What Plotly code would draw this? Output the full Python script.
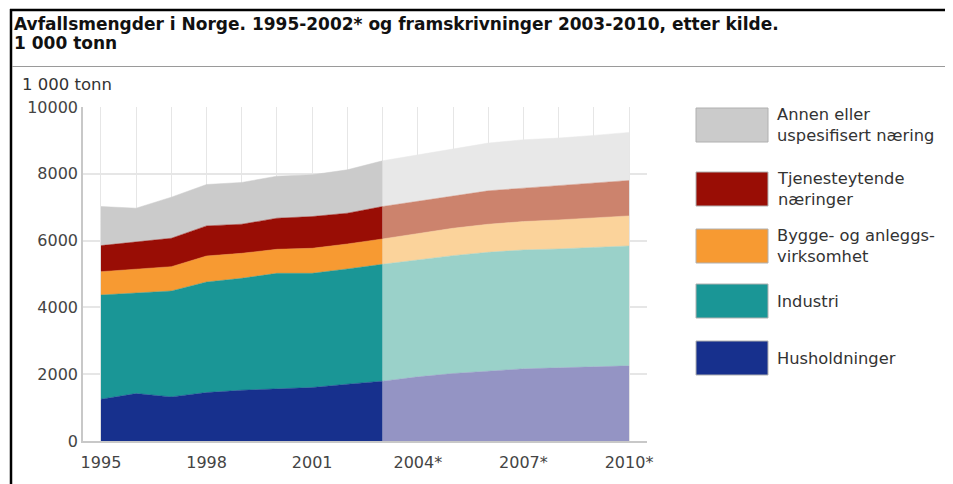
import plotly.graph_objects as go

# Avfallsmengder i Norge, 1 000 tonn. 1995-2003 registrert, 2003-2010 framskrivning
years = list(range(1995, 2011))
husholdninger = [1250, 1420, 1320, 1450, 1520, 1570, 1600, 1700, 1790, 1920, 2020, 2100, 2160, 2190, 2220, 2250]
industri = [3120, 3020, 3170, 3310, 3350, 3450, 3420, 3450, 3500, 3500, 3530, 3550, 3560, 3560, 3570, 3590]
bygge = [700, 710, 730, 780, 750, 720, 750, 750, 760, 800, 820, 840, 850, 870, 880, 900]
tjeneste = [780, 820, 850, 900, 870, 930, 950, 920, 970, 950, 970, 1000, 1000, 1020, 1050, 1060]
annen = [1170, 1000, 1230, 1240, 1250, 1260, 1250, 1300, 1370, 1400, 1400, 1430, 1450, 1430, 1430, 1440]

split_year = 2003
tick_years = [1995, 1998, 2001, 2004, 2007, 2010]
tick_text = ["1995", "1998", "2001", "2004*", "2007*", "2010*"]

series = [
    ("Husholdninger", husholdninger, "#17308d", "#9494c4"),
    ("Industri", industri, "#1a9696", "#9ad1c9"),
    ("Bygge- og anleggs-<br>virksomhet", bygge, "#f79a32", "#fbd39b"),
    ("Tjenesteytende<br>næringer", tjeneste, "#990d05", "#cc836d"),
    ("Annen eller<br>uspesifisert næring", annen, "#cbcbcb", "#e8e8e8"),
]

# siden har 8 px body-marg, så figuren er 8 px mindre enn vinduet
OFF = 8
W, H = 953 - OFF, 484 - OFF
L, R, T, B = 83 - OFF, 306, 107 - OFF, 43
FONT = "DejaVu Sans"


def px_x(px):
    """skjermpiksel (vindu) -> paper-x"""
    return (px - OFF - L) / (W - L - R)


def px_y(py):
    return (H - B - (py - OFF)) / (H - T - B)


fig = go.Figure()
cut = years.index(split_year)
for name, vals, solid, light in series:
    fig.add_trace(go.Scatter(
        x=years[:cut + 1], y=vals[:cut + 1], stackgroup="hist", mode="lines",
        line=dict(width=0.5, color=solid), fillcolor=solid, name=name, showlegend=False,
    ))
for name, vals, solid, light in series:
    fig.add_trace(go.Scatter(
        x=years[cut:], y=vals[cut:], stackgroup="proj", mode="lines",
        line=dict(width=0.5, color=light), fillcolor=light, name=name, showlegend=False,
    ))

shapes = [
    # ramme og skillelinje
    dict(type="line", xref="paper", yref="paper", x0=px_x(10), x1=px_x(960), y0=px_y(10), y1=px_y(10),
         line=dict(color="black", width=2.5)),
    dict(type="line", xref="paper", yref="paper", x0=px_x(11), x1=px_x(11), y0=px_y(9), y1=px_y(490),
         line=dict(color="black", width=2.5)),
    dict(type="line", xref="paper", yref="paper", x0=px_x(12), x1=px_x(960), y0=px_y(66.5), y1=px_y(66.5),
         line=dict(color="#9a9a9a", width=1)),
]
title_font = dict(family=FONT, size=17, color="#111")
annotations = [
    dict(text="<b>Avfallsmengder i Norge. 1995-2002* og framskrivninger 2003-2010, etter kilde.</b>",
         xref="paper", yref="paper", x=px_x(12), y=px_y(24), xanchor="left", yanchor="middle",
         showarrow=False, font=title_font),
    dict(text="<b>1 000 tonn</b>",
         xref="paper", yref="paper", x=px_x(12), y=px_y(43), xanchor="left", yanchor="middle",
         showarrow=False, font=title_font),
    dict(text="1 000 tonn", xref="paper", yref="paper", x=px_x(20), y=px_y(84), xanchor="left",
         yanchor="middle", showarrow=False, font=dict(family=FONT, size=16.5, color="#333")),
]

# egen tegnforklaring med rektangler
box_tops = [108, 172, 229, 284, 341]
for (name, vals, solid, light), top in zip(reversed(series), box_tops):
    shapes.append(dict(type="rect", xref="paper", yref="paper",
                       x0=px_x(696), x1=px_x(768), y0=px_y(top), y1=px_y(top + 34),
                       fillcolor=solid, line=dict(color="#b0b0b0", width=1)))
    annotations.append(dict(text=name, xref="paper", yref="paper", x=px_x(775), y=px_y(top + 17),
                            xanchor="left", yanchor="middle", align="left", showarrow=False,
                            font=dict(family=FONT, size=16.3, color="#333")))

fig.update_layout(
    width=W, height=H,
    margin=dict(l=L, r=R, t=T, b=B),
    paper_bgcolor="white", plot_bgcolor="white",
    shapes=shapes, annotations=annotations,
    font=dict(family=FONT, size=16, color="#444"),
)
fig.update_xaxes(
    range=[1994.49, 2010.51], tickvals=tick_years, ticktext=tick_text,
    showgrid=True, gridcolor="#e6e6e6", gridwidth=1,
    minor=dict(dtick=1, tick0=1995, showgrid=True, gridcolor="#e6e6e6", gridwidth=1),
    showline=True, linecolor="#c8c8c8", linewidth=1.5, zeroline=False,
    ticks="outside", ticklen=6, tickcolor="white",
)
fig.update_yaxes(
    range=[0, 10000], tickvals=[0, 2000, 4000, 6000, 8000, 10000],
    showgrid=True, gridcolor="#e6e6e6", gridwidth=1.5,
    showline=True, linecolor="#c8c8c8", linewidth=1.5, zeroline=False,
    ticks="", tickformat="d",
)

fig.write_html("out.html")
